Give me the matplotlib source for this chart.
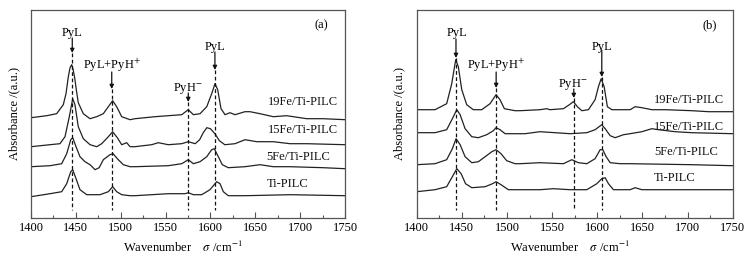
import matplotlib
matplotlib.use("Agg")
import matplotlib.pyplot as plt
from matplotlib.ticker import MultipleLocator

plt.rcParams['font.family'] = ['Liberation Serif', 'DejaVu Serif']
plt.rcParams['mathtext.fontset'] = 'stix'
plt.rcParams['font.size'] = 9

# ---------------- Panel (a) data ----------------
a_19_w = [1400, 1417.5, 1428.6, 1436, 1439, 1441.6, 1443.5, 1445.4, 1447, 1449, 1450.5, 1452.7, 1458.3,
          1465.8, 1473.2, 1480.6, 1486.2, 1491, 1495.5, 1501.1, 1510.4, 1515.9, 1538.2, 1553, 1568,
          1575.3, 1581, 1588.4, 1595.9, 1601.4, 1605.1, 1608.1, 1611.8, 1616.3, 1621.8, 1627.4, 1638.5,
          1644.1, 1655.3, 1670.1, 1685, 1707.3, 1725.8, 1750]
a_19_y = [1.00, 1.02, 1.04, 1.13, 1.24, 1.41, 1.50, 1.53, 1.48, 1.38, 1.28, 1.15, 1.04,
          0.99, 1.01, 1.04, 1.11, 1.17, 1.11, 1.01, 0.98, 0.99, 1.01, 1.02, 1.03,
          1.08, 1.03, 1.04, 1.11, 1.24, 1.34, 1.28, 1.09, 1.03, 1.05, 1.03, 1.06,
          1.06, 1.04, 1.01, 1.02, 0.99, 0.99, 0.98]

a_15_w = [1400, 1421.2, 1432.3, 1437.9, 1442.7, 1446.5, 1449, 1452.7, 1458.3, 1465.8, 1473.2, 1478.8,
          1486.2, 1491, 1496.2, 1501.1, 1506.7, 1510.4, 1515.9, 1534.5, 1541.9, 1553, 1568, 1575.3,
          1583, 1588, 1592, 1596, 1600, 1605, 1610, 1616, 1627.4, 1638.5, 1651.6, 1670.1, 1688.7,
          1707.3, 1750]
a_15_y = [0.71, 0.73, 0.74, 0.81, 1.01, 1.19, 1.13, 0.91, 0.79, 0.73, 0.71, 0.74,
          0.81, 0.86, 0.80, 0.73, 0.75, 0.71, 0.71, 0.73, 0.75, 0.73, 0.74, 0.76,
          0.74, 0.78, 0.85, 0.90, 0.89, 0.84, 0.77, 0.73, 0.74, 0.78, 0.76, 0.76, 0.74,
          0.74, 0.73]

a_5_w = [1400, 1421.2, 1434.2, 1439.8, 1444.3, 1446.5, 1450.2, 1454.6, 1460.2, 1465.8, 1471.4, 1476,
         1480.6, 1488, 1491.5, 1496.2, 1502.9, 1510.4, 1515.9, 1553, 1568, 1575.3, 1581, 1588.4,
         1595.9, 1601.4, 1604.3, 1608.8, 1613.2, 1619.9, 1638.5, 1655.3, 1670, 1688.7, 1725.8, 1750]
a_5_y = [0.51, 0.52, 0.54, 0.64, 0.78, 0.80, 0.71, 0.61, 0.56, 0.53, 0.48, 0.50,
         0.58, 0.63, 0.64, 0.59, 0.53, 0.51, 0.51, 0.52, 0.54, 0.58, 0.54, 0.56,
         0.61, 0.68, 0.69, 0.61, 0.53, 0.50, 0.51, 0.53, 0.51, 0.51, 0.50, 0.49]

a_ti_w = [1400, 1421.2, 1434.2, 1439.8, 1444.3, 1446.5, 1450.2, 1454.6, 1462.1, 1476.9, 1486.2, 1491,
          1495.5, 1501.1, 1510.4, 1515.9, 1553, 1571.7, 1575.3, 1581, 1590.3, 1599.5, 1607, 1610.7,
          1614.4, 1619.9, 1638.5, 1688.7, 1750]
a_ti_y = [0.21, 0.24, 0.26, 0.34, 0.46, 0.48, 0.39, 0.28, 0.23, 0.23, 0.26, 0.31,
          0.26, 0.23, 0.22, 0.22, 0.24, 0.24, 0.25, 0.23, 0.23, 0.28, 0.36, 0.34,
          0.26, 0.22, 0.22, 0.23, 0.22]

# ---------------- Panel (b) data ----------------
b_19_w = [1400, 1420.3, 1433.2, 1438.8, 1443.2, 1446.1, 1449.9, 1455.4, 1462.7, 1472, 1481.2, 1487.9,
          1492.3, 1497.1, 1508.9, 1514.5, 1536.6, 1544.1, 1547.7, 1562.5, 1569.1, 1573.6, 1578, 1582.9,
          1590.2, 1597.6, 1601.3, 1604.3, 1607.6, 1611.2, 1616.1, 1625.3, 1636.4, 1641.9, 1649.4,
          1660.4, 1675.2, 1704.8, 1723.2, 1750]
b_19_y = [1.08, 1.08, 1.14, 1.34, 1.58, 1.51, 1.28, 1.13, 1.08, 1.08, 1.14, 1.23,
          1.18, 1.09, 1.07, 1.07, 1.08, 1.09, 1.08, 1.09, 1.13, 1.16, 1.11, 1.07,
          1.08, 1.18, 1.31, 1.39, 1.31, 1.11, 1.08, 1.08, 1.08, 1.11, 1.10,
          1.08, 1.08, 1.07, 1.06, 1.06]

b_15_w = [1400, 1420.3, 1433.2, 1439.5, 1444.4, 1448.1, 1453.6, 1461, 1468.3, 1477.6, 1484.9, 1487.9,
          1492.3, 1497.9, 1520, 1536.6, 1570, 1588.4, 1597.6, 1605, 1608.7, 1614.3, 1619.8, 1629,
          1636.4, 1649.4, 1660.4, 1667.8, 1686.3, 1704.8, 1750]
b_15_y = [0.85, 0.85, 0.88, 0.99, 1.08, 1.03, 0.89, 0.81, 0.80, 0.83, 0.87, 0.90,
          0.88, 0.84, 0.84, 0.86, 0.84, 0.85, 0.88, 0.93, 0.89, 0.82, 0.80, 0.83,
          0.84, 0.86, 0.89, 0.88, 0.86, 0.85, 0.84]

b_5_w = [1400, 1420.3, 1433.2, 1439.5, 1443.6, 1448.1, 1453.6, 1461, 1468.3, 1475.8, 1483.2, 1487.9,
         1493.4, 1499.7, 1508.9, 1514.5, 1536.6, 1562.5, 1571.8, 1579.1, 1588.4, 1597.6, 1603.2,
         1606.1, 1609.8, 1614.3, 1625.3, 1636.4, 1704.8, 1750]
b_5_y = [0.53, 0.54, 0.58, 0.69, 0.79, 0.73, 0.61, 0.55, 0.56, 0.61, 0.66, 0.68,
         0.64, 0.57, 0.54, 0.54, 0.55, 0.54, 0.58, 0.55, 0.54, 0.59, 0.68,
         0.68, 0.61, 0.55, 0.54, 0.54, 0.53, 0.52]

b_ti_w = [1400, 1420.3, 1433.2, 1439.5, 1444.4, 1449.2, 1454.1, 1461, 1475.8, 1484, 1487.9, 1493.4,
          1501.5, 1514.5, 1536.6, 1551.3, 1570, 1588.4, 1599.5, 1605, 1608.7, 1612.4, 1617.9, 1636.4,
          1641.9, 1649.4, 1750]
b_ti_y = [0.26, 0.28, 0.31, 0.41, 0.49, 0.44, 0.34, 0.30, 0.31, 0.34, 0.36, 0.33,
          0.28, 0.28, 0.28, 0.29, 0.28, 0.28, 0.34, 0.39, 0.40, 0.34, 0.28, 0.28,
          0.30, 0.28, 0.28]

series_labels = ['19Fe/Ti-PILC', '15Fe/Ti-PILC', '5Fe/Ti-PILC', 'Ti-PILC']
xticks = [1400, 1450, 1500, 1550, 1600, 1650, 1700, 1750]

panels = [
    dict(tag='(a)', left=31/750, width=314/750,
         curves=[(a_19_w, a_19_y), (a_15_w, a_15_y), (a_5_w, a_5_y), (a_ti_w, a_ti_y)],
         label_pos=[(1664.5, 1.157), (1664.5, 0.877), (1662.7, 0.61), (1662.7, 0.34)],
         marks=[('PyL', 1445.5, 1.844, 1446, 1.797, 1.647),
                ('PyL+PyH$^{+}$', 1490, 1.527, 1490, 1.457, 1.287),
                ('PyH$^{-}$', 1575.3, 1.297, 1575.3, 1.247, 1.157),
                ('PyL', 1605, 1.71, 1605, 1.657, 1.477)]),
    dict(tag='(b)', left=416.7/750, width=316/750,
         curves=[(b_19_w, b_19_y), (b_15_w, b_15_y), (b_5_w, b_5_y), (b_ti_w, b_ti_y)],
         label_pos=[(1662.2, 1.177), (1662.2, 0.91), (1663.3, 0.66), (1662.2, 0.394)],
         marks=[('PyL', 1444.3, 1.844, 1443.5, 1.787, 1.597),
                ('PyL+PyH$^{+}$', 1487.5, 1.527, 1488, 1.457, 1.297),
                ('PyH$^{-}$', 1572.5, 1.327, 1574, 1.287, 1.197),
                ('PyL', 1605, 1.71, 1605, 1.677, 1.407)]),
]

fig = plt.figure(figsize=(7.5, 2.57), dpi=100)
spine_col = '#555555'
for p in panels:
    ax = fig.add_axes([p['left'], 39.3/257, p['width'], 207.7/257])
    for (w, y) in p['curves']:
        ax.plot(w, y, color='#222222', lw=0.9)
    for txt, (lx, ly) in zip(series_labels, p['label_pos']):
        ax.text(lx, ly, txt, ha='left', va='center', fontsize=9, color='#111111')
    for txt, tx, ty, lx, atop, atip in p['marks']:
        ax.text(tx, ty, txt, ha='center', va='center', fontsize=9)
        ax.annotate('', xy=(lx, atip), xytext=(lx, atop),
                    arrowprops=dict(arrowstyle='-|>', color='#111111', lw=0.9,
                                    mutation_scale=6, shrinkA=0, shrinkB=0))
        ax.plot([lx, lx], [atip, 0.08], ls=(0, (3, 2)), color='#111111', lw=0.9)
    ax.text(1724, 1.927, p['tag'], ha='center', va='center', fontsize=9)
    ax.set_xlim(1400, 1750)
    ax.set_ylim(0, 2.077)
    ax.set_xticks(xticks)
    ax.xaxis.set_minor_locator(MultipleLocator(25))
    ax.set_yticks([])
    ax.tick_params(axis='x', which='major', direction='in', length=4, width=0.8,
                   color=spine_col, labelsize=9, pad=3)
    ax.tick_params(axis='x', which='minor', direction='in', length=2.5, width=0.8, color=spine_col)
    for s in ax.spines.values():
        s.set_color(spine_col)
        s.set_linewidth(0.9)
    ax.set_xlabel('Wavenumber    $\\sigma$ /cm$^{-1}$', fontsize=9, labelpad=2)
    ax.xaxis.set_label_coords(0.485, -0.105)
    ax.set_ylabel('Absorbance /(a.u.)', fontsize=9, labelpad=8)

fig.savefig('out.png', dpi=100)
